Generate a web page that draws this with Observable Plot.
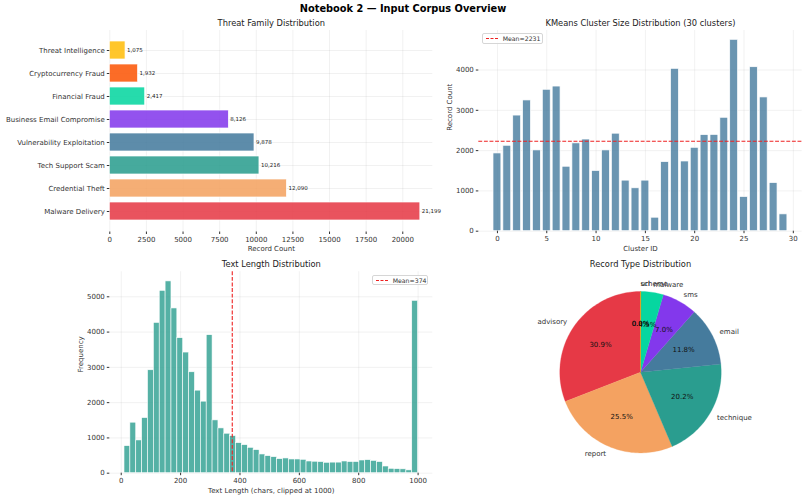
<!DOCTYPE html>
<html><head><meta charset="utf-8">
<script src="https://cdn.jsdelivr.net/npm/d3@7"></script>
<script src="https://cdn.jsdelivr.net/npm/@observablehq/plot@0.6"></script>
<style>
body{margin:0;background:#fff;}
#root{position:relative;width:806px;height:499px;font-family:"DejaVu Sans",sans-serif;color:#333;overflow:hidden;background:#fff;}
.panel{position:absolute;}
.panel svg{overflow:visible;}
.maintitle{position:absolute;left:0;width:806px;top:3px;text-align:center;font-weight:bold;font-size:9.8px;line-height:12px;color:#000;}
.legend{position:absolute;border:0.8px solid #d6d6d6;border-radius:2px;background:rgba(255,255,255,0.85);font-size:6.2px;color:#333;box-sizing:border-box;display:flex;align-items:center;}
.legend .sw{display:inline-block;width:12px;height:0;border-top:1.1px dashed #ee2222;margin:0 5px 0 3px;}
</style></head><body>
<div id="root">
  <div class="maintitle">Notebook 2 — Input Corpus Overview</div>
  <div class="panel" id="p1" style="left:0;top:0;"></div>
  <div class="panel" id="p2" style="left:440px;top:0;"></div>
  <div class="panel" id="p3" style="left:0;top:250px;"></div>
  <div class="panel" id="p4" style="left:480px;top:250px;"></div>
  <div class="legend" id="lg2" style="left:481.7px;top:33px;width:61.6px;height:11px;"><span class="sw"></span><span id="lg2t"></span></div>
  <div class="legend" id="lg3" style="left:371.7px;top:275px;width:56.6px;height:10px;"><span class="sw"></span><span id="lg3t"></span></div>
</div>
<script>
// ---------- Data ----------
const families = ["Malware Delivery","Credential Theft","Tech Support Scam","Vulnerability Exploitation","Business Email Compromise","Financial Fraud","Cryptocurrency Fraud","Threat Intelligence"];
const familyCounts = [21199,12090,10216,9878,8126,2417,1932,1075];
const familyColors = ["#e63946","#f4a261","#2a9d8f","#457b9d","#8338ec","#06d6a0","#fb5607","#ffbe0b"];
const familyTicks = [0,2500,5000,7500,10000,12500,15000,17500,20000];

const clusterIds = [0,1,2,3,4,5,6,7,8,9,10,11,12,13,14,15,16,17,18,19,20,21,22,23,24,25,26,27,28,29];
const clusterCounts = [1930,2120,2870,3245,2005,3510,3590,1600,2180,2275,1495,2005,2420,1255,1065,1255,335,1715,4030,1730,2070,2385,2390,2815,4750,850,4070,3320,1195,418];
const clusterMean = 2231;
const clusterXTicks = [0,5,10,15,20,25,30];
const clusterYTicks = [0,1000,2000,3000,4000];

const lengthBinStart = 11, lengthBinEnd = 1000, lengthBinCount = 50;
const lengthCounts = [767,1432,929,1563,2918,4261,5170,5437,4670,3827,3420,2861,2340,2028,3912,1497,1270,1119,1051,852,795,720,654,531,483,455,398,418,389,389,380,332,325,316,295,300,300,332,316,316,360,370,350,316,190,125,115,110,80,4886];
const lengthMean = 374;
const lengthXTicks = [0,200,400,600,800,1000];
const lengthYTicks = [0,1000,2000,3000,4000,5000];

const recordTypes = ["advisory","report","technique","email","sms","malware","url","scheme"];
const recordCounts = [20682,17068,13520,7898,4685,3030,15,10];
const recordColors = ["#e63946","#f4a261","#2a9d8f","#457b9d","#8338ec","#06d6a0","#fb5607","#ffbe0b"];

// ---------- Shared styles ----------
const FONT = "DejaVu Sans";
const gridStyle = {stroke:"#b0b0b0", strokeOpacity:0.3, strokeWidth:0.6};
const axisStyle = {tickSize:2.5, tickPadding:2.5, fontSize:7, label:null, line:true};
const svgStyle = {fontFamily:FONT, color:"#333", background:"transparent", overflow:"visible"};

// ---------- Panel 1: Threat family ----------
const famData = families.map((f,i)=>({family:f, count:familyCounts[i], color:familyColors[i]}));
const p1 = Plot.plot({
  width:440, height:260, marginLeft:109.3, marginRight:7.7, marginTop:30, marginBottom:28.5,
  style:svgStyle,
  x:{domain:[0,22050]},
  y:{type:"band", domain:families.slice().reverse(), paddingInner:0.2, paddingOuter:0.39},
  color:{type:"identity"},
  marks:[
    Plot.gridX(familyTicks, gridStyle),
    Plot.gridY(gridStyle),
    Plot.barX(famData, {x:"count", y:"family", fill:"color", fillOpacity:0.87, stroke:"white", strokeWidth:0.7}),
    Plot.text(famData, {x:"count", y:"family", text:d=>d3.format(",")(d.count), dx:1.5, textAnchor:"start", fontSize:5.5, fill:"#222"}),
    Plot.axisX({...axisStyle, ticks:familyTicks, tickFormat:d3.format("d")}),
    Plot.axisY({...axisStyle}),
    Plot.text(["Threat Family Distribution"], {text:d=>d, frameAnchor:"top", lineAnchor:"middle", dy:-7, fontSize:8.3, fill:"#222"}),
    Plot.text(["Record Count"], {text:d=>d, frameAnchor:"bottom", lineAnchor:"middle", dy:16.5, fontSize:7, fill:"#333"})
  ]
});
document.getElementById("p1").append(p1);

// ---------- Panel 2: KMeans clusters ----------
const clData = clusterIds.map((c,i)=>({id:c, count:clusterCounts[i]}));
const p2 = Plot.plot({
  width:366, height:260, marginLeft:38.3, marginRight:4.4, marginTop:30, marginBottom:29.3,
  style:svgStyle,
  x:{domain:[-1.89,30.89]},
  y:{domain:[0,4981]},
  marks:[
    Plot.gridX(clusterXTicks, gridStyle),
    Plot.gridY(clusterYTicks, gridStyle),
    Plot.rectY(clData, {x1:d=>d.id-0.4, x2:d=>d.id+0.4, y:"count", fill:"#457b9d", fillOpacity:0.8, stroke:"white", strokeWidth:0.7}),
    Plot.ruleY([clusterMean], {stroke:"#ee2222", strokeWidth:1.1, strokeDasharray:"3.9,1.7"}),
    Plot.axisX({...axisStyle, ticks:clusterXTicks, tickFormat:d3.format("d")}),
    Plot.axisY({...axisStyle, ticks:clusterYTicks, tickFormat:d3.format("d")}),
    Plot.text(["KMeans Cluster Size Distribution (30 clusters)"], {text:d=>d, frameAnchor:"top", lineAnchor:"middle", dy:-7, fontSize:8.3, fill:"#222"}),
    Plot.text(["Cluster ID"], {text:d=>d, frameAnchor:"bottom", lineAnchor:"middle", dy:17.3, fontSize:7, fill:"#333"}),
    Plot.text(["Record Count"], {text:d=>d, frameAnchor:"left", rotate:-90, dx:-29.3, fontSize:7, fill:"#333"})
  ]
});
document.getElementById("p2").append(p2);
document.getElementById("lg2t").textContent = "Mean=" + clusterMean;

// ---------- Panel 3: Text length histogram ----------
const binW = (lengthBinEnd - lengthBinStart) / lengthBinCount;
const histData = lengthCounts.map((c,i)=>({x1:lengthBinStart + i*binW, x2:lengthBinStart + (i+1)*binW, count:c}));
const p3 = Plot.plot({
  width:440, height:249, marginLeft:109.3, marginRight:7.7, marginTop:21.3, marginBottom:26.3,
  style:svgStyle,
  x:{domain:[-38.5,1049.5]},
  y:{domain:[0,5709]},
  marks:[
    Plot.gridX(lengthXTicks, gridStyle),
    Plot.gridY(lengthYTicks, gridStyle),
    Plot.rectY(histData, {x1:"x1", x2:"x2", y:"count", fill:"#2a9d8f", fillOpacity:0.8, stroke:"white", strokeWidth:0.6}),
    Plot.ruleX([lengthMean], {stroke:"#ee2222", strokeWidth:1.1, strokeDasharray:"3.9,1.7"}),
    Plot.axisX({...axisStyle, ticks:lengthXTicks, tickFormat:d3.format("d")}),
    Plot.axisY({...axisStyle, ticks:lengthYTicks, tickFormat:d3.format("d")}),
    Plot.text(["Text Length Distribution"], {text:d=>d, frameAnchor:"top", lineAnchor:"middle", dy:-7.3, fontSize:8.3, fill:"#222"}),
    Plot.text(["Text Length (chars, clipped at 1000)"], {text:d=>d, frameAnchor:"bottom", lineAnchor:"middle", dy:17.3, fontSize:7, fill:"#333"}),
    Plot.text(["Frequency"], {text:d=>d, frameAnchor:"left", rotate:-90, dx:-29.3, fontSize:7, fill:"#333"})
  ]
});
document.getElementById("p3").append(p3);
document.getElementById("lg3t").textContent = "Mean=" + lengthMean;

// ---------- Panel 4: Record type pie ----------
const total = d3.sum(recordCounts);
const wedgePts = [], pieLabels = [];
let ang = 90;
recordTypes.forEach((t,i)=>{
  const span = recordCounts[i]/total*360;
  const a0 = ang, a1 = ang + span;
  const n = Math.max(2, Math.ceil(span/1.5));
  wedgePts.push({type:t, color:recordColors[i], x:0, y:0});
  for (let k=0;k<=n;k++){
    const r = (a0 + (a1-a0)*k/n) * Math.PI/180;
    wedgePts.push({type:t, color:recordColors[i], x:Math.cos(r), y:Math.sin(r)});
  }
  wedgePts.push({type:t, color:recordColors[i], x:0, y:0});
  const m = (a0+a1)/2*Math.PI/180;
  pieLabels.push({type:t, pct:(recordCounts[i]/total*100).toFixed(1)+"%",
    lx:1.1*Math.cos(m), ly:1.1*Math.sin(m), px:0.6*Math.cos(m), py:0.6*Math.sin(m), right:Math.cos(m)>=0});
  ang = a1;
});
const p4 = Plot.plot({
  width:326, height:249, marginLeft:79.3, marginRight:85.3, marginTop:41, marginBottom:46.6,
  style:svgStyle,
  x:{domain:[-1,1], axis:null},
  y:{domain:[-1,1], axis:null},
  color:{type:"identity"},
  marks:[
    Plot.line(wedgePts, {x:"x", y:"y", z:"type", fill:"color", stroke:"color", strokeWidth:0.3, curve:"linear"}),
    Plot.text(pieLabels.filter(d=>d.right), {x:"lx", y:"ly", text:"type", textAnchor:"start", fontSize:7, fill:"#333"}),
    Plot.text(pieLabels.filter(d=>!d.right), {x:"lx", y:"ly", text:"type", textAnchor:"end", fontSize:7, fill:"#333"}),
    Plot.text(pieLabels, {x:"px", y:"py", text:"pct", fontSize:7, fill:"#111"}),
    Plot.text(["Record Type Distribution"], {text:d=>d, frameAnchor:"top", lineAnchor:"middle", dy:-27, fontSize:8.3, fill:"#222"})
  ]
});
document.getElementById("p4").append(p4);
</script>
</body></html>
